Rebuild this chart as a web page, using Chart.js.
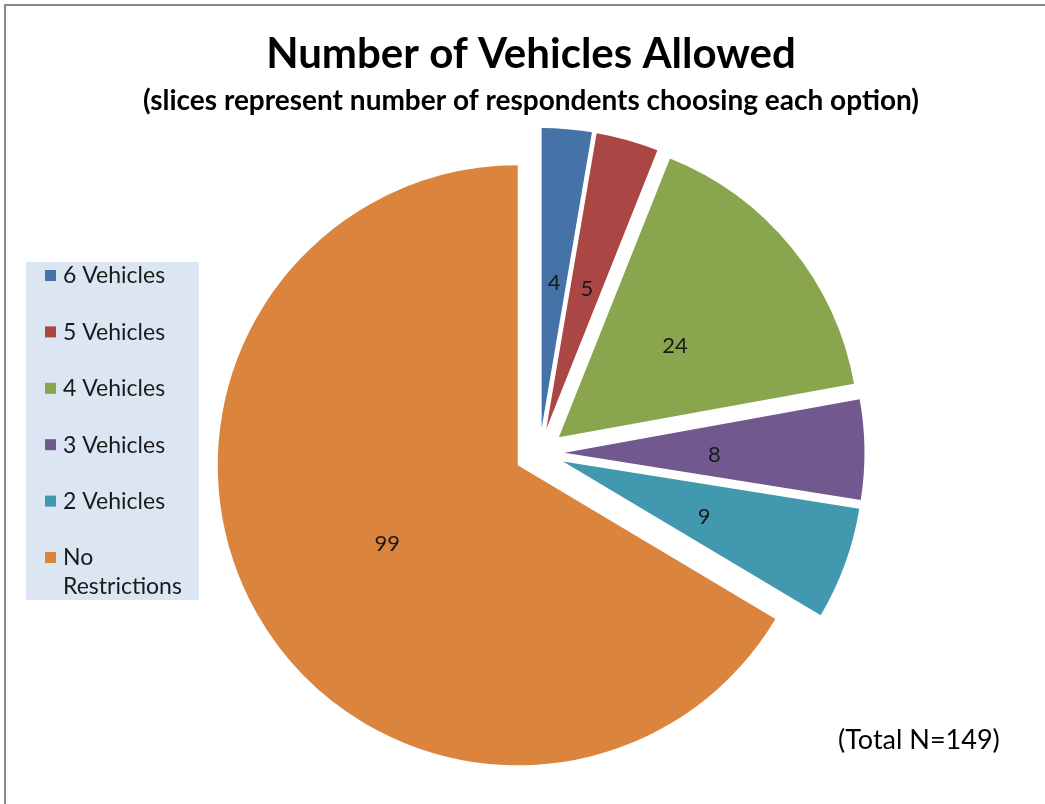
<!DOCTYPE html>
<html>
<head>
<meta charset="utf-8">
<title>Number of Vehicles Allowed</title>
<script src="https://cdn.jsdelivr.net/npm/chart.js@4.4.1/dist/chart.umd.min.js"></script>
<style>
  html, body { margin: 0; padding: 0; background: #fff; }
  #wrap { position: relative; width: 1045px; height: 804px; overflow: hidden; }
  #wrap canvas { position: absolute; left: 0; top: 0; }
  /* the chart frame only shows on its top and left sides */
  #frame { position: absolute; left: 4px; top: 4px; right: -4px; bottom: -4px;
           border-top: 2px solid #8a8a8a; border-left: 2px solid #8a8a8a; pointer-events: none; }
</style>
</head>
<body>
<div id="wrap">
  <canvas id="pie" width="1045" height="804"></canvas>
  <div id="frame"></div>
</div>
<script>
const categories = ["6 Vehicles", "5 Vehicles", "4 Vehicles", "3 Vehicles", "2 Vehicles", "No Restrictions"];
const respondents = [4, 5, 24, 8, 9, 99];
const sliceColors = ["#4572A7", "#AA4643", "#89A54E", "#71588F", "#4198AF", "#DB843D"];

const chartTitle = "Number of Vehicles Allowed";
const chartSubtitle = "(slices represent number of respondents choosing each option)";

const FONT = "Lato, 'Open Sans', sans-serif";
const EXPLODE = 25;   // every slice is pulled this far out of the centre

const totalN = respondents.reduce((a, b) => a + b, 0);

function wrapWords(ctx, text, maxWidth) {
  const words = text.split(" ");
  const lines = [];
  let line = "";
  words.forEach(w => {
    const test = line ? line + " " + w : w;
    if (line && ctx.measureText(test).width > maxWidth) {
      lines.push(line);
      line = w;
    } else {
      line = test;
    }
  });
  lines.push(line);
  return lines;
}

// draw each arc shifted along its bisector instead of the default drawing
const explodePlugin = {
  id: "explode",
  beforeDatasetDraw(chart, args) {
    const ctx = chart.ctx;
    args.meta.data.forEach(arc => {
      const mid = (arc.startAngle + arc.endAngle) / 2;
      ctx.save();
      ctx.translate(Math.cos(mid) * EXPLODE, Math.sin(mid) * EXPLODE);
      arc.draw(ctx);
      ctx.restore();
    });
    return false;
  }
};

// value labels half way out along each exploded slice
const valueLabels = {
  id: "valueLabels",
  afterDatasetsDraw(chart) {
    const ctx = chart.ctx;
    const meta = chart.getDatasetMeta(0);
    ctx.save();
    ctx.font = "22px " + FONT;
    ctx.fillStyle = "#1a1a1a";
    ctx.textAlign = "center";
    ctx.textBaseline = "middle";
    meta.data.forEach((arc, i) => {
      const mid = (arc.startAngle + arc.endAngle) / 2;
      const dist = EXPLODE + arc.outerRadius / 2;
      ctx.fillText(String(respondents[i]), arc.x + Math.cos(mid) * dist, arc.y + Math.sin(mid) * dist + 4);
    });
    ctx.restore();
  }
};

// titles, the boxed legend on the left and the total note
const decorations = {
  id: "decorations",
  afterDraw(chart) {
    const ctx = chart.ctx;
    ctx.save();
    ctx.fillStyle = "#000";
    ctx.textAlign = "center";
    ctx.textBaseline = "middle";
    ctx.font = "bold 42px " + FONT;
    ctx.fillText(chartTitle, 531, 54);
    ctx.font = "bold 28px " + FONT;
    ctx.fillText(chartSubtitle, 531, 101);

    // legend
    ctx.fillStyle = "#dce6f2";
    ctx.fillRect(26, 262, 173, 338);
    ctx.font = "23px " + FONT;
    ctx.textAlign = "left";
    const labels = chart.data.labels;
    const colors = chart.data.datasets[0].backgroundColor;
    labels.forEach((lab, i) => {
      const y = 276 + i * 56.4;
      ctx.fillStyle = colors[i];
      ctx.fillRect(45, y - 6, 11, 11);
      ctx.fillStyle = "#1a1a1a";
      wrapWords(ctx, lab, 128).forEach((ln, k) => {
        ctx.fillText(ln, 63, y + k * 29);
      });
    });

    ctx.font = "27px " + FONT;
    ctx.fillStyle = "#000";
    ctx.fillText("(Total N=" + totalN + ")", 838, 740);
    ctx.restore();
  }
};

const pie = new Chart(document.getElementById("pie"), {
  type: "pie",
  data: {
    labels: categories,
    datasets: [{
      data: respondents,
      backgroundColor: sliceColors,
      borderWidth: 0
    }]
  },
  options: {
    responsive: false,
    animation: false,
    devicePixelRatio: 1,
    radius: 300,
    layout: { padding: { left: 34, right: 0, top: 102, bottom: 0 } },
    plugins: {
      legend: { display: false },
      title: { display: false },
      tooltip: { enabled: false }
    }
  },
  plugins: [explodePlugin, valueLabels, decorations]
});
</script>
</body>
</html>
